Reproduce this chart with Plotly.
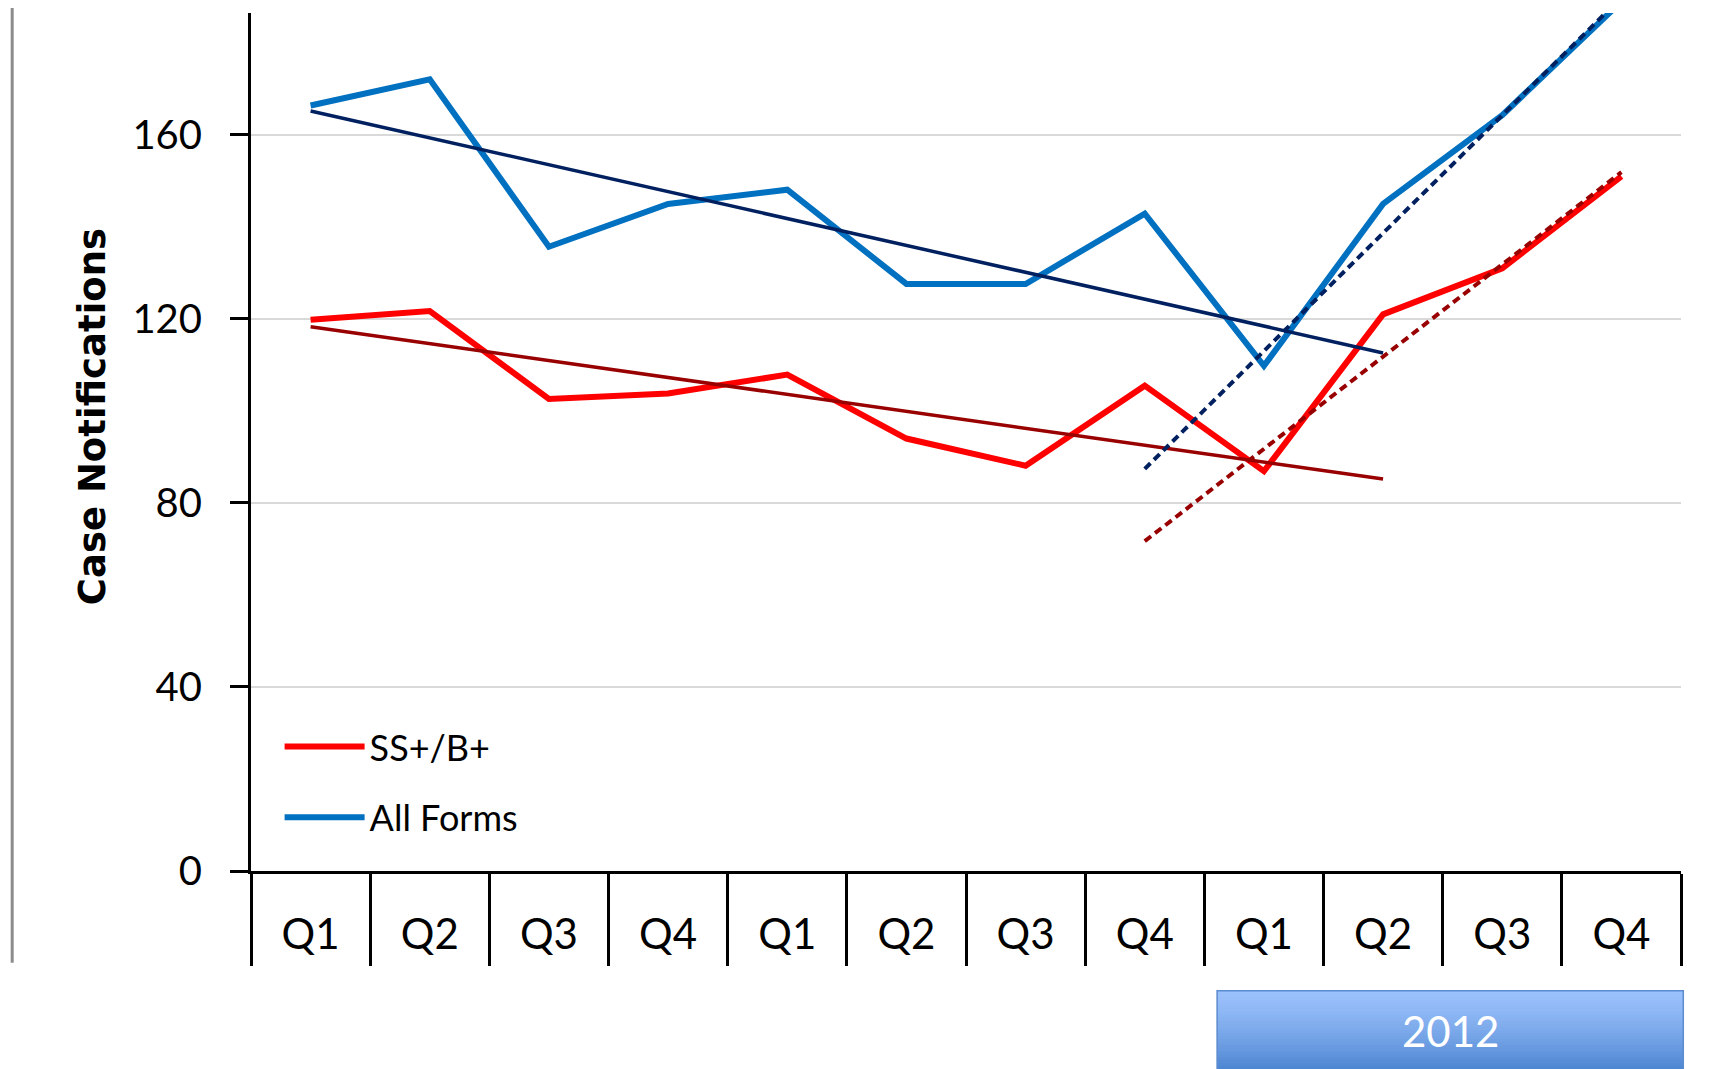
import plotly.graph_objects as go

# 분기별 환자 신고 건수
quarters = ["Q1", "Q2", "Q3", "Q4", "Q1", "Q2", "Q3", "Q4", "Q1", "Q2", "Q3", "Q4"]
all_forms = [166.4, 172.1, 135.7, 145.0, 148.1, 127.6, 127.6, 142.9, 109.8, 145.0, 164.3, 189.0]
ss_bplus = [119.8, 121.7, 102.6, 103.8, 107.9, 94.0, 88.1, 105.5, 86.9, 121.0, 131.0, 151.0]

# 추세선 (끝점만 읽음)
trend_all_x, trend_all_y = [0, 9], [165.2, 112.6]
trend_ss_x, trend_ss_y = [0, 9], [118.3, 85.2]
recent_all_x, recent_all_y = [7, 11], [87.4, 189.9]
recent_ss_x, recent_ss_y = [7, 11], [71.7, 151.9]

year_label = "2012"

FONT = "Lato"
BLUE, RED = "#0070C0", "#FF0000"
NAVY, DARKRED = "#002060", "#990000"

x = list(range(len(quarters)))

fig = go.Figure()
fig.add_trace(go.Scatter(x=x, y=ss_bplus, mode="lines", name="SS+/B+",
                         line=dict(color=RED, width=6), legendgroup="a"))
fig.add_trace(go.Scatter(x=x, y=all_forms, mode="lines", name="All Forms",
                         line=dict(color=BLUE, width=6), legendgroup="b"))
fig.add_trace(go.Scatter(x=trend_all_x, y=trend_all_y, mode="lines", showlegend=False,
                         line=dict(color=NAVY, width=3.5)))
fig.add_trace(go.Scatter(x=trend_ss_x, y=trend_ss_y, mode="lines", showlegend=False,
                         line=dict(color=DARKRED, width=3.5)))
fig.add_trace(go.Scatter(x=recent_all_x, y=recent_all_y, mode="lines", showlegend=False,
                         line=dict(color=NAVY, width=4, dash="8px,5px")))
fig.add_trace(go.Scatter(x=recent_ss_x, y=recent_ss_y, mode="lines", showlegend=False,
                         line=dict(color=DARKRED, width=4, dash="8px,5px")))

# 카테고리 구분선 = minor tick
bounds = [i - 0.5 for i in range(len(quarters) + 1)]
fig.update_xaxes(
    range=[-0.5, len(quarters) - 0.5],
    tickvals=x, ticktext=quarters,
    ticks="outside", ticklen=25, tickcolor="rgba(0,0,0,0)",
    tickfont=dict(family=FONT, size=42, color="black"),
    showline=True, linecolor="black", linewidth=3,
    showgrid=False, zeroline=False,
    minor=dict(tickvals=bounds, ticks="outside", ticklen=92, tickwidth=3, tickcolor="black"),
)
fig.update_yaxes(
    range=[0, 186.5], dtick=40,
    showline=True, linecolor="black", linewidth=3,
    ticks="outside", ticklen=18, tickwidth=3, tickcolor="black",
    ticklabelstandoff=20,
    tickfont=dict(family=FONT, size=40, color="black"),
    gridcolor="#D9D9D9", gridwidth=2, zeroline=False,
)

# 2012 박스 (그라데이션)
top_c, bot_c = (155, 193, 252), (64, 124, 202)
x0, x1 = 0.6756, 1.0016
y0, y1 = -0.1395, -0.245
steps = 30
for i in range(steps):
    t = (i / (steps - 1)) ** 1.3
    c = tuple(int(a + (b - a) * t) for a, b in zip(top_c, bot_c))
    ya = y0 + (y1 - y0) * i / steps
    yb = y0 + (y1 - y0) * (i + 1.6) / steps
    fig.add_shape(type="rect", xref="paper", yref="paper", x0=x0, x1=x1,
                  y0=max(yb, y1), y1=ya,
                  fillcolor="rgb(%d,%d,%d)" % c, line_width=0, layer="below")
fig.add_shape(type="rect", xref="paper", yref="paper", x0=x0, x1=x1, y0=y1, y1=y0,
              line=dict(color="#5B8BD0", width=1.5))
fig.add_annotation(xref="paper", yref="paper", x=(x0 + x1) / 2, y=-0.1865,
                   xanchor="center", yanchor="middle",
                   text=year_label, showarrow=False,
                   font=dict(family=FONT, size=42, color="white"))

# 왼쪽 회색 선
fig.add_shape(type="line", xref="paper", yref="paper", x0=-0.167, x1=-0.167,
              y0=1.02, y1=-0.107, line=dict(color="#8C8C8C", width=3))

fig.add_annotation(xref="paper", yref="paper", x=-0.1112, y=0.530,
                   xanchor="center", yanchor="middle",
                   text="<b>Case Notifications</b>", textangle=-90, showarrow=False,
                   font=dict(family="DejaVu Sans", size=37, color="black"))

fig.update_layout(
    width=1719, height=1069,
    margin=dict(l=243, r=46, t=5, b=206),
    paper_bgcolor="white", plot_bgcolor="white",
    legend=dict(x=0.02, y=0.18, xanchor="left", yanchor="top",
                font=dict(family=FONT, size=36, color="black"),
                bgcolor="rgba(0,0,0,0)", itemwidth=80, tracegroupgap=21),
)

fig.write_html("out.html")
